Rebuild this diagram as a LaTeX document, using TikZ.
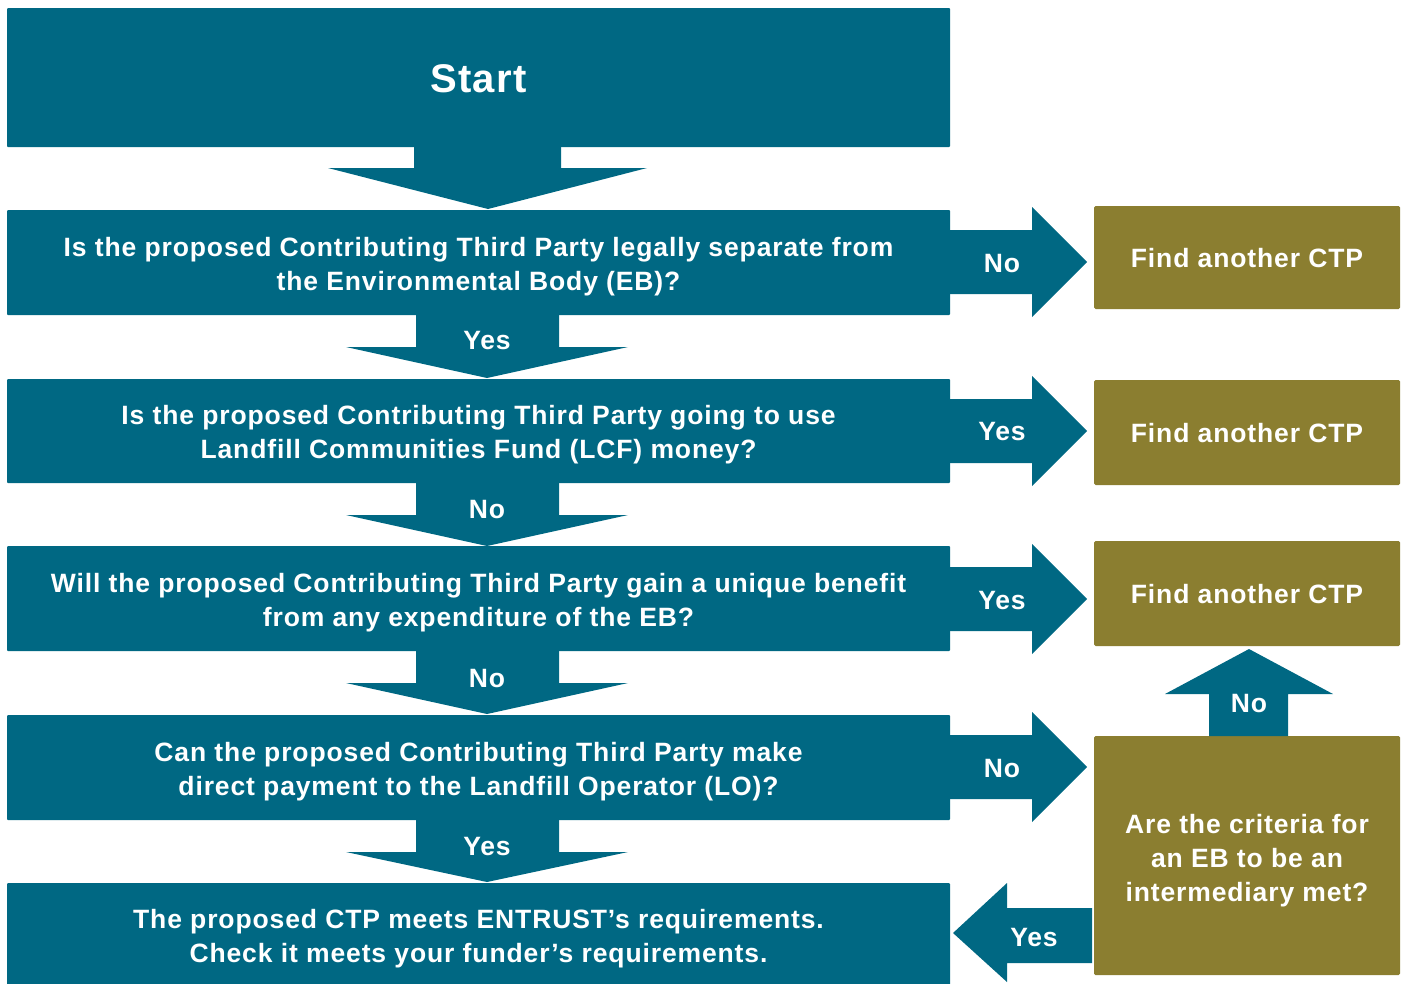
\documentclass[tikz,border=0pt]{standalone}
\usepackage{fontspec}
\setmainfont[LetterSpace=3.3]{Liberation Sans}
\definecolor{ctpteal}{RGB}{0,104,131}
\definecolor{ctpolive}{RGB}{139,126,48}
\tikzset{
  tbox/.style={fill=ctpteal, inner sep=0pt, rounded corners=1pt, minimum width=943pt},
  obox/.style={fill=ctpolive, inner sep=0pt, rounded corners=1.5pt, minimum width=306pt},
  txt/.style={text=white, font=\bfseries\fontsize{26.5}{34}\selectfont, align=center, inner sep=0pt},
  barrow/.style={fill=ctpteal},
  alabel/.style={text=white, font=\bfseries\fontsize{26.5}{30}\selectfont, inner sep=0pt}
}
\begin{document}
\begin{tikzpicture}[x=1pt,y=-1pt]
\useasboundingbox (0,0) rectangle (1407,983);
% main boxes
\node[tbox, minimum height=139pt] (start) at (478.5,77.5) {};
\node[tbox, minimum height=105pt] (q1) at (478.5,262.5) {};
\node[tbox, minimum height=104pt] (q2) at (478.5,431) {};
\node[tbox, minimum height=105pt] (q3) at (478.5,598.5) {};
\node[tbox, minimum height=105pt] (q4) at (478.5,767.5) {};
\node[tbox, minimum height=104pt] (fin) at (478.5,935) {};
\node[txt, font=\bfseries\fontsize{40}{44}\selectfont] (startt) at ([yshift=-1pt]start.center) {Start};
\node[txt] (q1t) at ([yshift=-4pt]q1.center) {Is the proposed Contributing Third Party legally separate from\\the Environmental Body (EB)?};
\node[txt] (q2t) at ([yshift=-4pt]q2.center) {Is the proposed Contributing Third Party going to use\\Landfill Communities Fund (LCF) money?};
\node[txt] (q3t) at ([yshift=-4pt]q3.center) {Will the proposed Contributing Third Party gain a unique benefit\\from any expenditure of the EB?};
\node[txt] (q4t) at ([yshift=-4pt]q4.center) {Can the proposed Contributing Third Party make\\direct payment to the Landfill Operator (LO)?};
\node[txt] (fint) at ([yshift=-4pt]fin.center) {The proposed CTP meets ENTRUST's requirements.\\Check it meets your funder's requirements.};
% right boxes
\node[obox, minimum height=103pt] (r1) at (1247,257.5) {};
\node[obox, minimum height=105pt] (r2) at (1247,432.5) {};
\node[obox, minimum height=105pt] (r3) at (1247,593.5) {};
\node[obox, minimum height=239pt] (r4) at (1247,855.5) {};
\node[txt] (r1t) at ([yshift=-1pt]r1.center) {Find another CTP};
\node[txt] (r2t) at ([yshift=-1pt]r2.center) {Find another CTP};
\node[txt] (r3t) at ([yshift=-1pt]r3.center) {Find another CTP};
\node[txt] (r4t) at ([yshift=-5pt]r4.center) {Are the criteria for\\an EB to be an\\intermediary met?};
% down arrows
\fill[barrow] (414,147) -- (561,147) -- (561,168) -- (647,168) -- (488,209) -- (328,168) -- (414,168) -- cycle;
\foreach \ya/\yb in {315/378, 483/546, 651/714, 820/882}{
  \fill[barrow] (416,\ya) -- (559,\ya) -- (559,\ya+32) -- (628,\ya+32) -- (487,\yb) -- (346,\ya+32) -- (416,\ya+32) -- cycle;
}
\node[alabel] (l1) at (487,341) {Yes};
\node[alabel] (l2) at (487,510) {No};
\node[alabel] (l3) at (487,679) {No};
\node[alabel] (l4) at (487,846) {Yes};
% right arrows
\foreach \yc in {262, 431, 599, 767}{
  \fill[barrow] (950,\yc-32) -- (1032,\yc-32) -- (1032,\yc-55) -- (1087,\yc) -- (1032,\yc+55) -- (1032,\yc+32) -- (950,\yc+32) -- cycle;
}
\node[alabel] (rl1) at (1002,264) {No};
\node[alabel] (rl2) at (1002,432) {Yes};
\node[alabel] (rl3) at (1002,601) {Yes};
\node[alabel] (rl4) at (1002,768) {No};
% up arrow
\fill[barrow] (1209,736) -- (1209,694) -- (1165,694) -- (1249,649) -- (1333,694) -- (1288,694) -- (1288,736) -- cycle;
\node[alabel] (ul) at (1249,704) {No};
% left arrow
\fill[barrow] (1092,908) -- (1007,908) -- (1007,883) -- (953,933) -- (1007,982) -- (1007,963) -- (1092,963) -- cycle;
\node[alabel] (ll) at (1034,937) {Yes};
\end{tikzpicture}
\end{document}
